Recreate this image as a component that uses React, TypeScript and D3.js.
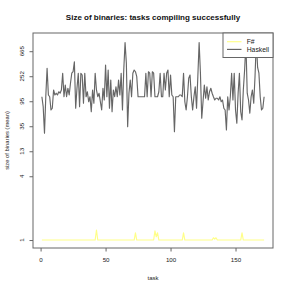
import React, { useEffect, useRef } from 'react';
import * as d3 from 'd3';

// tasks 1..172 on the x axis
const tasks = d3.range(1, 173);

// mean binary size, in the log units of the y axis (0 = size 1)
const fsharp = [
  0, 0, 0, 0, 0, 0, 0, 0, 0, 0,
  0, 0, 0, 0, 0, 0, 0, 0, 0, 0,
  0, 0, 0, 0, 0, 0, 0, 0, 0, 0,
  0, 0, 0, 0, 0, 0, 0, 0, 0, 0,
  0, 0, 0.4, 0, 0, 0, 0, 0, 0, 0,
  0, 0, 0, 0, 0, 0, 0, 0, 0, 0,
  0, 0, 0, 0, 0, 0, 0, 0, 0, 0,
  0, 0, 0.29, 0, 0, 0, 0, 0, 0, 0,
  0, 0, 0, 0, 0, 0, 0, 0.37, 0.13, 0.29,
  0, 0, 0, 0, 0, 0, 0, 0, 0, 0,
  0, 0, 0, 0, 0, 0, 0, 0, 0, 0.29,
  0, 0, 0, 0, 0, 0, 0, 0, 0, 0,
  0, 0, 0, 0, 0, 0, 0, 0, 0, 0,
  0, 0, 0.09, 0.04, 0.09, 0, 0, 0, 0, 0,
  0, 0, 0, 0, 0, 0, 0, 0, 0, 0,
  0, 0, 0, 0, 0.29, 0, 0, 0, 0, 0,
  0, 0, 0, 0, 0, 0, 0, 0, 0, 0,
  0, 0
];

const haskell = [
  5.73, 5.33, 4.27, 5.73, 6.87, 5.8, 5.73, 5.2, 5.27, 6.0,
  5.8, 5.87, 5.8, 5.93, 5.87, 6.0, 6.67, 5.73, 6.2, 5.73,
  6.07, 5.8, 6.27, 6.67, 6.73, 7.13, 5.27, 6.07, 6.67, 5.33,
  6.67, 6.6, 5.47, 6.67, 5.73, 5.93, 5.53, 5.73, 5.13, 6.0,
  5.47, 6.67, 6.0, 5.73, 5.87, 5.53, 5.2, 6.07, 5.6, 7.0,
  5.73, 6.8, 5.27, 6.4, 5.13, 6.0, 5.73, 6.13, 5.73, 6.4,
  5.8, 6.67, 5.2, 6.8, 7.9, 7.07, 4.53, 5.87, 6.4, 5.73,
  6.67, 6.8, 6.73, 6.53, 5.73, 5.73, 5.73, 5.73, 5.73, 5.73,
  6.67, 5.73, 6.73, 6.67, 5.73, 6.73, 6.67, 5.73, 5.73, 5.73,
  5.93, 6.67, 5.73, 5.73, 6.67, 6.0, 6.67, 6.8, 5.73, 6.6,
  5.8, 5.73, 4.33, 5.73, 5.73, 5.73, 5.8, 5.8, 5.73, 6.67,
  5.53, 5.2, 5.73, 6.47, 6.6, 5.73, 5.2, 5.73, 6.13, 5.27,
  6.53, 7.9, 6.67, 4.87, 5.53, 6.2, 5.67, 6.13, 5.6, 5.93,
  6.07, 5.87, 5.73, 5.6, 5.67, 5.67, 5.6, 5.73, 5.53, 5.6,
  5.27, 5.2, 4.4, 5.73, 5.2, 5.73, 6.67, 5.6, 6.67, 5.2,
  4.67, 5.87, 6.67, 5.13, 4.8, 6.0, 6.8, 7.9, 5.87, 5.6,
  5.07, 5.73, 6.0, 5.47, 6.53, 7.96, 6.9, 6.67, 5.73, 5.2,
  5.27, 5.73
];

const xTicks = [0, 50, 100, 150];
const yTickPos = [0, 2.55, 3.55, 4.55, 5.55, 6.55, 7.55];
const yTickLabels = ['1', '4', '13', '35', '95', '252', '665'];

const seriesNames = ['F#', 'Haskell'];
const seriesColors = ['#ffff88', '#666666'];

const W = 291;
const H = 291;
const margin = { top: 33, right: 18, bottom: 43, left: 33 };
const font = 'Liberation Sans, Arial, Helvetica, sans-serif';
const axisColor = '#666';

const drawChart = (node) => {
  const width = W - margin.left - margin.right;
  const height = H - margin.top - margin.bottom;

  const svg = d3.select(node);
  svg.selectAll('*').remove();

  svg.append('rect').attr('width', W).attr('height', H).attr('fill', '#fff');

  const g = svg.append('g')
    .attr('transform', `translate(${margin.left},${margin.top})`);

  // R style: 4% padding on each side of the data range
  const xExt = d3.extent(tasks);
  const xPad = (xExt[1] - xExt[0]) * 0.04;
  const x = d3.scaleLinear()
    .domain([xExt[0] - xPad, xExt[1] + xPad])
    .range([0, width]);

  const all = haskell.concat(fsharp);
  const yLo = d3.min(all);
  const yHi = d3.max(all);
  const yPad = (yHi - yLo) * 0.04;
  const y = d3.scaleLinear()
    .domain([yLo - yPad, yHi + yPad])
    .range([height, 0]);

  const series = [fsharp, haskell];

  // lines
  const line = d3.line()
    .x((d, i) => x(tasks[i]))
    .y((d) => y(d));

  series.forEach((s, k) => {
    g.append('path')
      .datum(s)
      .attr('fill', 'none')
      .attr('stroke', seriesColors[k])
      .attr('stroke-width', 1.15)
      .attr('stroke-linejoin', 'round')
      .attr('d', line);
  });

  // x axis
  const xAxis = g.append('g')
    .attr('transform', `translate(0,${height})`)
    .call(d3.axisBottom(x).tickValues(xTicks).tickSize(3.5).tickPadding(6.5));
  xAxis.select('.domain').remove();
  xAxis.selectAll('line').attr('stroke', axisColor);
  xAxis.selectAll('text')
    .attr('font-family', font)
    .attr('font-size', 6.2)
    .attr('fill', '#222');

  // y axis
  const yAxis = g.append('g')
    .call(d3.axisLeft(y).tickValues(yTickPos).tickSize(3.5).tickFormat(() => ''));
  yAxis.select('.domain').remove();
  yAxis.selectAll('line').attr('stroke', axisColor);

  g.selectAll('.ylab')
    .data(yTickPos)
    .enter()
    .append('text')
    .attr('class', 'ylab')
    .attr('transform', (d) => `translate(-11.3,${y(d)}) rotate(-90)`)
    .attr('text-anchor', 'middle')
    .attr('dy', '0.35em')
    .attr('font-family', font)
    .attr('font-size', 6.2)
    .attr('fill', '#222')
    .text((d, i) => yTickLabels[i]);

  // box
  g.append('rect')
    .attr('width', width)
    .attr('height', height)
    .attr('fill', 'none')
    .attr('stroke', axisColor)
    .attr('stroke-width', 1);

  // legend, top right corner
  const lw = 50;
  const lh = 24.5;
  const leg = g.append('g').attr('transform', `translate(${width - lw},0)`);
  leg.append('rect')
    .attr('width', lw)
    .attr('height', lh)
    .attr('fill', '#fff')
    .attr('stroke', axisColor)
    .attr('stroke-width', 1);
  seriesNames.forEach((name, k) => {
    const ly = 8.7 + k * 7.7;
    leg.append('line')
      .attr('x1', 4).attr('x2', 18.5)
      .attr('y1', ly).attr('y2', ly)
      .attr('stroke', seriesColors[k])
      .attr('stroke-width', 1.15);
    leg.append('text')
      .attr('x', 23.7)
      .attr('y', ly)
      .attr('dy', '0.35em')
      .attr('font-family', font)
      .attr('font-size', 6.8)
      .attr('fill', '#222')
      .text(name);
  });

  // titles
  svg.append('text')
    .attr('x', margin.left + width / 2)
    .attr('y', 16.7)
    .attr('dy', '0.35em')
    .attr('text-anchor', 'middle')
    .attr('font-family', font)
    .attr('font-weight', 'bold')
    .attr('font-size', 8)
    .attr('fill', '#111')
    .text('Size of binaries: tasks compiling successfully');

  svg.append('text')
    .attr('x', margin.left + width / 2)
    .attr('y', 277.7)
    .attr('dy', '0.35em')
    .attr('text-anchor', 'middle')
    .attr('font-family', font)
    .attr('font-size', 6)
    .attr('fill', '#222')
    .text('task');

  svg.append('text')
    .attr('transform', `translate(6.7,${margin.top + height / 2}) rotate(-90)`)
    .attr('dy', '0.35em')
    .attr('text-anchor', 'middle')
    .attr('font-family', font)
    .attr('font-size', 5.8)
    .attr('fill', '#222')
    .text('size of binaries (mean)');
};

const App = () => {
  const ref = useRef(null);

  useEffect(() => {
    drawChart(ref.current);
  }, []);

  return (
    <svg
      ref={ref}
      width={W}
      height={H}
      style={{ position: 'absolute', left: 0, top: 0, display: 'block' }}
    />
  );
};

export default App;
